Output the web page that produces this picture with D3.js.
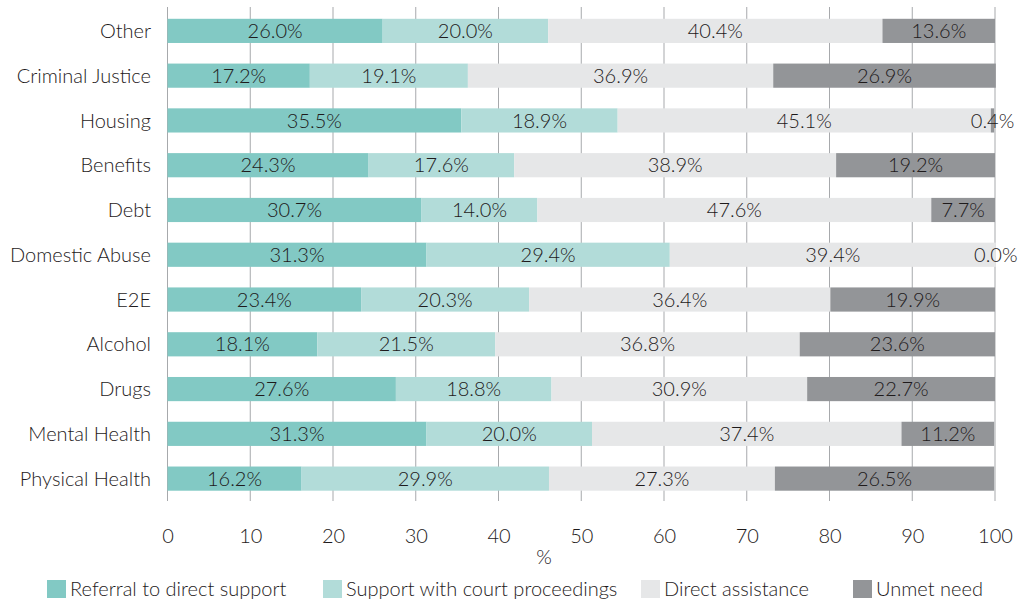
<!DOCTYPE html>
<html>
<head>
<meta charset="utf-8">
<script src="https://cdn.jsdelivr.net/npm/d3@7"></script>
<style>
  body { margin: 0; background: #fff; }
  svg { display: block; font-family: Lato, "Open Sans", sans-serif; font-weight: 300; }
</style>
</head>
<body>
<svg id="chart" width="1019" height="606"></svg>
<script>
const categories = ['Other', 'Criminal Justice', 'Housing', 'Benefits', 'Debt', 'Domestic Abuse',
  'E2E', 'Alcohol', 'Drugs', 'Mental Health', 'Physical Health'];
const seriesNames = ['Referral to direct support', 'Support with court proceedings', 'Direct assistance', 'Unmet need'];
const referral = [26.0, 17.2, 35.5, 24.3, 30.7, 31.3, 23.4, 18.1, 27.6, 31.3, 16.2];
const court    = [20.0, 19.1, 18.9, 17.6, 14.0, 29.4, 20.3, 21.5, 18.8, 20.0, 29.9];
const direct   = [40.4, 36.9, 45.1, 38.9, 47.6, 39.4, 36.4, 36.8, 30.9, 37.4, 27.3];
const unmet    = [13.6, 26.9, 0.4, 19.2, 7.7, 0.0, 19.9, 23.6, 22.7, 11.2, 26.5];
const xTicks = [0, 10, 20, 30, 40, 50, 60, 70, 80, 90, 100];
const colors = ['#82c9c4', '#b2dcd9', '#e6e7e8', '#939598'];

const svg = d3.select('#chart');
const textColor = '#1e1a1b';
const fs = 20;

const x = d3.scaleLinear().domain([0, 100]).range([167.5, 995]);
const y = d3.scaleBand().domain(categories).range([8.5, 501]).paddingInner(0.46).paddingOuter(0.23);

// rows for stacking
const rows = categories.map((c, i) => ({
  cat: c, s0: referral[i], s1: court[i], s2: direct[i], s3: unmet[i]
}));
const stack = d3.stack().keys(['s0', 's1', 's2', 's3'])(rows);

// gridlines
svg.append('g')
  .selectAll('line')
  .data(xTicks)
  .join('line')
  .attr('x1', d => x(d)).attr('x2', d => x(d))
  .attr('y1', 7).attr('y2', 501)
  .attr('stroke', '#a7a9ac').attr('stroke-width', 1);

// bars
const layers = svg.append('g').selectAll('g')
  .data(stack)
  .join('g')
  .attr('fill', (d, i) => colors[i]);

layers.selectAll('rect')
  .data(d => d)
  .join('rect')
  .attr('x', d => x(d[0]))
  .attr('y', d => y(d.data.cat))
  .attr('width', d => Math.max(0, x(d[1]) - x(d[0])))
  .attr('height', y.bandwidth());

// value labels
const labelG = svg.append('g')
  .attr('font-size', fs).attr('fill', textColor).attr('text-anchor', 'middle');
stack.forEach(layer => {
  labelG.selectAll(null)
    .data(layer)
    .join('text')
    .attr('x', d => (x(d[0]) + x(d[1])) / 2)
    .attr('y', d => y(d.data.cat) + y.bandwidth() / 2)
    .attr('dy', '0.36em')
    .text(d => (d[1] - d[0]).toFixed(1) + '%');
});

// category axis labels
svg.append('g')
  .attr('font-size', fs).attr('fill', textColor).attr('text-anchor', 'end')
  .selectAll('text')
  .data(categories)
  .join('text')
  .attr('x', 151)
  .attr('y', d => y(d) + y.bandwidth() / 2)
  .attr('dy', '0.36em')
  .text(d => d);

// x axis
const xAxis = svg.append('g')
  .attr('transform', 'translate(0,501)')
  .call(d3.axisBottom(x).tickValues(xTicks).tickSize(0).tickPadding(28).tickFormat(d3.format('d')));
xAxis.select('.domain').remove();
xAxis.attr('font-family', null).attr('font-size', fs);
xAxis.selectAll('text').attr('fill', textColor);

svg.append('text')
  .attr('x', x(45.5)).attr('y', 564)
  .attr('text-anchor', 'middle').attr('font-size', fs).attr('fill', textColor)
  .text('%');

// legend
const legend = svg.append('g').attr('font-size', fs).attr('fill', textColor);
const legendX = [47, 323, 641, 853];
seriesNames.forEach((name, i) => {
  const g = legend.append('g').attr('transform', `translate(${legendX[i]},580)`);
  g.append('rect').attr('width', 19).attr('height', 18).attr('fill', colors[i]);
  g.append('text').attr('x', 23).attr('y', 9).attr('dy', '0.36em').text(name);
});
</script>
</body>
</html>
